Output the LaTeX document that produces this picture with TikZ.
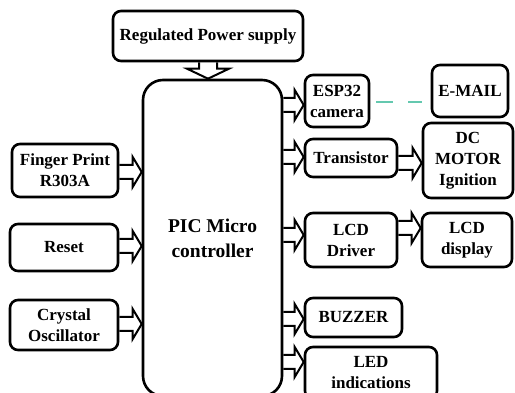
\documentclass[tikz,border=0pt]{standalone}
\usepackage{fontspec}
\setmainfont{Liberation Serif}
\usetikzlibrary{calc}
\definecolor{dashteal}{RGB}{100,200,175}
\tikzset{
  blk/.style={draw, line width=2.6pt, rounded corners=8pt, inner sep=0pt, align=center,
    font=\fontsize{17}{21}\selectfont\bfseries},
  bigblk/.style={draw, line width=2.6pt, rounded corners=20pt, inner sep=0pt, align=center,
    font=\fontsize{19.5}{25}\selectfont\bfseries},
  harrow/.style={line width=2pt, line join=miter, to path={
    let \p1=(\tikztostart), \p2=(\tikztotarget) in
    (\x1,\y1+7pt) -- (\x2-9pt,\y1+7pt) -- (\x2-9pt,\y1+15pt) -- (\x2,\y1)
    -- (\x2-9pt,\y1-15pt) -- (\x2-9pt,\y1-7pt) -- (\x1,\y1-7pt)}},
  varrow/.style={line width=2pt, line join=miter, to path={
    let \p1=(\tikztostart), \p2=(\tikztotarget) in
    (\x1-9pt,\y1) -- (\x1-9pt,\y2+10pt) -- (\x1-21pt,\y2+10pt) -- (\x1,\y2)
    -- (\x1+21pt,\y2+10pt) -- (\x1+9pt,\y2+10pt) -- (\x1+9pt,\y1)}},
  link/.style={draw=dashteal, line width=1.2pt, dash pattern=on 17pt off 15pt}
}
\begin{document}
\begin{tikzpicture}[x=1pt,y=-1pt]
\useasboundingbox (0,0) rectangle (515,393);
\begin{scope}
\clip (0,0) rectangle (515,393);
\node[blk, minimum width=190pt, minimum height=50pt] (power) at (208,36) {Regulated Power supply};
\node[bigblk, minimum width=139pt, minimum height=316pt] (main) at (212.5,238) {PIC Micro\\controller};
\node[blk, minimum width=106pt, minimum height=53pt] (finger) at (65,170.5) {Finger Print\\R303A};
\node[blk, minimum width=108pt, minimum height=47pt] (reset) at (64,247.5) {Reset};
\node[blk, minimum width=108pt, minimum height=50pt] (crystal) at (64,325) {Crystal\\Oscillator};
\node[blk, minimum width=64pt, minimum height=52pt] (esp) at (337,101) {ESP32\\camera};
\node[blk, minimum width=76pt, minimum height=52pt] (email) at (470,91) {E-MAIL};
\node[blk, minimum width=92pt, minimum height=38pt] (trans) at (351,158) {Transistor};
\node[blk, minimum width=90pt, minimum height=75pt] (dc) at (468,160.5) {DC\\MOTOR\\Ignition};
\node[blk, minimum width=92pt, minimum height=54pt] (lcdd) at (351,240) {LCD\\Driver};
\node[blk, minimum width=90pt, minimum height=54pt] (lcdp) at (467,240) {LCD\\display};
\node[blk, minimum width=97pt, minimum height=39pt] (buzz) at (353.5,317.5) {BUZZER};
\node[blk, minimum width=132pt, minimum height=52pt] (led) at (371,373) {LED\\indications};

\draw[varrow] (power.south) to (main.north);
\draw[harrow] (finger.east |- 0,172) to (main.west |- 0,172);
\draw[harrow] (reset.east |- 0,246) to (main.west |- 0,246);
\draw[harrow] (crystal.east |- 0,324) to (main.west |- 0,324);
\draw[harrow] (main.east |- 0,105) to (esp.west |- 0,105);
\draw[harrow] (main.east |- 0,157) to (trans.west |- 0,157);
\draw[harrow] (main.east |- 0,235) to (lcdd.west |- 0,235);
\draw[harrow] (main.east |- 0,319) to (buzz.west |- 0,319);
\draw[harrow] (main.east |- 0,362) to (led.west |- 0,362);
\draw[harrow] (trans.east |- 0,163) to (dc.west |- 0,163);
\draw[harrow] (lcdd.east |- 0,228) to (lcdp.west |- 0,228);
\draw[link] ([xshift=6pt]esp.east |- 0,102) -- ([xshift=-9pt]email.west |- 0,102);
\end{scope}
\end{tikzpicture}
\end{document}
